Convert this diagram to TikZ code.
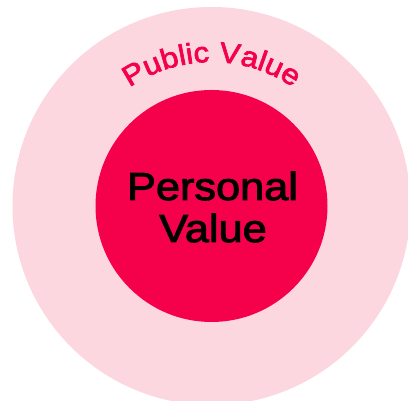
\documentclass[tikz,border=0pt]{standalone}
\usepackage{fontspec}
\setmainfont{Liberation Sans}
\newfontfamily\widesans[FakeStretch=1.11,FakeBold=2.5]{Liberation Sans}
\newfontfamily\arcsans[FakeStretch=1.1,FakeBold=2.5]{Liberation Sans}
\usetikzlibrary{decorations.text,calc}
\definecolor{outerpink}{HTML}{FCD7E0}
\definecolor{crimson}{HTML}{F5004B}
\begin{document}
\begin{tikzpicture}[x=1pt,y=1pt,
  ring/.style={fill=outerpink, draw=none},
  core/.style={fill=crimson, draw=none},
  bigtext/.style={font=\widesans\fontsize{39}{39}\selectfont, text=black, inner sep=0pt, anchor=base}]
\useasboundingbox (0,0) rectangle (408,401);
\clip (0,0) rectangle (408,401);
\fill[white] (0,0) rectangle (408,401);
\coordinate (c) at (211.5,195);
\fill[ring] (c) circle[radius=199];
\fill[core] (c) circle[radius=116];
\node[bigtext] (personal) at (212.5,201) {Personal};
\node[bigtext] (value) at (213,159) {Value};
\path[decorate, decoration={text along path, text align=center,
  text={|\arcsans\fontsize{28.5}{28.5}\selectfont\color{crimson}|Public Value}}]
  ($(c)+(150:144)$) arc[start angle=150, end angle=30, radius=144];
\end{tikzpicture}
\end{document}
